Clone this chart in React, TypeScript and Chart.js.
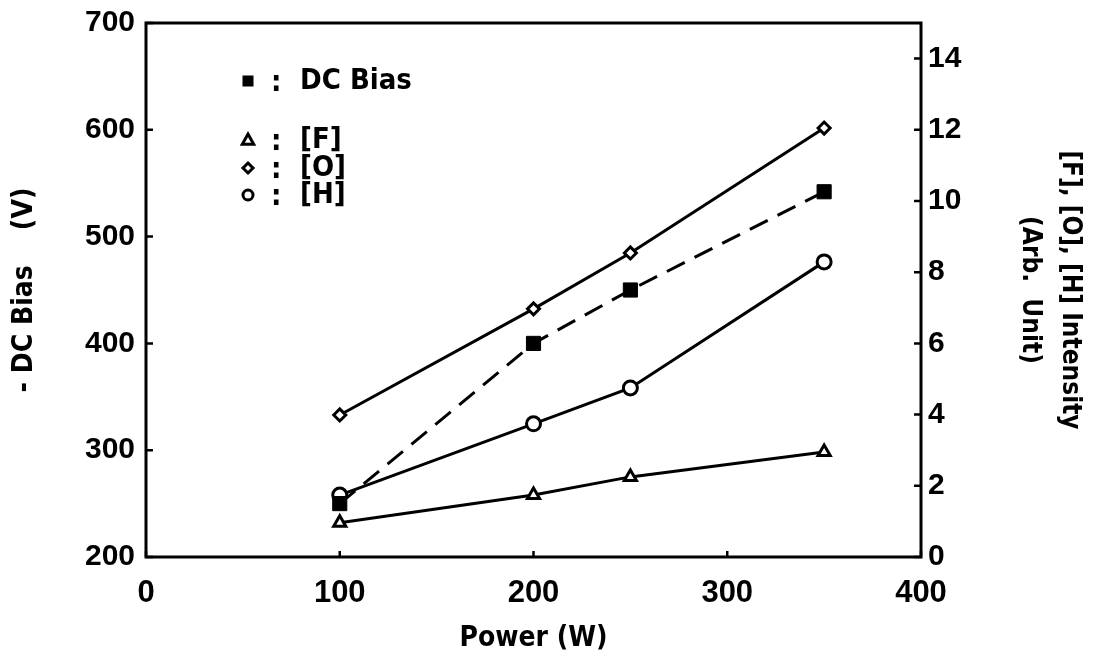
import React, { useEffect, useRef } from 'react';
import { Chart, registerables } from 'chart.js';

Chart.register(...registerables);

// ---- data ----
const powerW = [100, 200, 250, 350];
const dcBiasV = [250, 400, 450, 542];
const fIntensity = [0.96, 1.74, 2.25, 2.95];
const oIntensity = [3.99, 6.97, 8.54, 12.05];
const hIntensity = [1.74, 3.74, 4.75, 8.29];

const xTickValues = [0, 100, 200, 300, 400];
const leftTickValues = [200, 300, 400, 500, 600, 700];
const rightTickValues = [0, 2, 4, 6, 8, 10, 12, 14];

const legendLabels = ['DC Bias', '[F]', '[O]', '[H]'];
const xTitle = 'Power (W)';
const leftTitle = '- DC Bias    (V)';
const rightTitle = ['[F], [O], [H] Intensity', '(Arb.  Unit)'];

const TICKF = "'Liberation Sans', Arial, sans-serif";
const COND = "'DejaVu Sans Condensed', 'Liberation Sans', sans-serif";

function marker(ctx: CanvasRenderingContext2D, kind: string, x: number, y: number, r: number) {
  ctx.save();
  ctx.lineWidth = 3;
  ctx.strokeStyle = '#000';
  ctx.fillStyle = '#fff';
  ctx.beginPath();
  if (kind === 'rect') {
    ctx.fillStyle = '#000';
    ctx.fillRect(x - r, y - r, 2 * r, 2 * r);
  } else if (kind === 'triangle') {
    ctx.moveTo(x, y - r);
    ctx.lineTo(x + r * 0.95, y + r * 0.7);
    ctx.lineTo(x - r * 0.95, y + r * 0.7);
    ctx.closePath();
    ctx.fill();
    ctx.stroke();
  } else if (kind === 'rectRot') {
    ctx.moveTo(x, y - r);
    ctx.lineTo(x + r, y);
    ctx.lineTo(x, y + r);
    ctx.lineTo(x - r, y);
    ctx.closePath();
    ctx.fill();
    ctx.stroke();
  } else {
    ctx.arc(x, y, r, 0, Math.PI * 2);
    ctx.fill();
    ctx.stroke();
  }
  ctx.restore();
}

const framePlugin = {
  id: 'frameAndLegend',
  afterDraw(chart: any) {
    const { ctx, chartArea, scales } = chart;
    const { left, right, top, bottom } = chartArea;
    ctx.save();
    ctx.strokeStyle = '#000';
    ctx.lineWidth = 3;
    ctx.strokeRect(left, top, right - left, bottom - top);
    ctx.lineWidth = 2.5;
    ctx.beginPath();
    scales.y.ticks.forEach((t: any) => {
      const py = scales.y.getPixelForValue(t.value);
      ctx.moveTo(left, py);
      ctx.lineTo(left + 7, py);
    });
    scales.y2.ticks.forEach((t: any) => {
      const py = scales.y2.getPixelForValue(t.value);
      ctx.moveTo(right - 7, py);
      ctx.lineTo(right, py);
    });
    scales.x.ticks.forEach((t: any) => {
      const px = scales.x.getPixelForValue(t.value);
      ctx.moveTo(px, bottom - 6);
      ctx.lineTo(px, bottom);
    });
    ctx.stroke();

    // legend
    const kinds = ['rect', 'triangle', 'rectRot', 'circle'];
    const sizes = [5.5, 6, 5, 5];
    const rows = [81, 140, 168, 195];
    ctx.fillStyle = '#000';
    ctx.font = `bold 29px ${COND}`;
    ctx.textBaseline = 'middle';
    ctx.textAlign = 'left';
    legendLabels.forEach((lab, i) => {
      marker(ctx, kinds[i], 248, rows[i], sizes[i]);
      ctx.fillText(':', 271, rows[i] + 2);
      ctx.fillText(lab, 300, rows[i]);
    });
    ctx.restore();
  },
};

export default function App() {
  const ref = useRef<HTMLCanvasElement>(null);
  useEffect(() => {
    if (!ref.current) return;
    const chart = new Chart(ref.current, {
      type: 'line',
      data: {
        datasets: [
          {
            label: 'DC Bias',
            data: powerW.map((x, i) => ({ x, y: dcBiasV[i] })),
            yAxisID: 'y',
            borderColor: '#000',
            borderWidth: 3,
            borderDash: [20, 11],
            pointStyle: 'rect',
            pointRadius: 10,
            pointBackgroundColor: '#000',
            pointBorderColor: '#000',
            pointBorderWidth: 1,
          },
          {
            label: '[F]',
            data: powerW.map((x, i) => ({ x, y: fIntensity[i] })),
            yAxisID: 'y2',
            borderColor: '#000',
            borderWidth: 3,
            pointStyle: 'triangle',
            pointRadius: 7,
            pointBackgroundColor: '#fff',
            pointBorderColor: '#000',
            pointBorderWidth: 3,
          },
          {
            label: '[O]',
            data: powerW.map((x, i) => ({ x, y: oIntensity[i] })),
            yAxisID: 'y2',
            borderColor: '#000',
            borderWidth: 3,
            pointStyle: 'rectRot',
            pointRadius: 6,
            pointBackgroundColor: '#fff',
            pointBorderColor: '#000',
            pointBorderWidth: 3,
          },
          {
            label: '[H]',
            data: powerW.map((x, i) => ({ x, y: hIntensity[i] })),
            yAxisID: 'y2',
            borderColor: '#000',
            borderWidth: 3,
            pointStyle: 'circle',
            pointRadius: 7,
            pointBackgroundColor: '#fff',
            pointBorderColor: '#000',
            pointBorderWidth: 3,
          },
        ],
      },
      options: {
        responsive: false,
        animation: false,
        devicePixelRatio: 1,
        layout: { padding: { top: 23, left: 0, right: 0, bottom: 0 } },
        plugins: { legend: { display: false }, tooltip: { enabled: false } },
        scales: {
          x: {
            type: 'linear',
            position: 'bottom',
            min: 0,
            max: 400,
            afterBuildTicks: (s: any) => { s.ticks = xTickValues.map((v) => ({ value: v })); },
            afterFit: (s: any) => { s.height = 101; s.paddingLeft = 0; s.paddingRight = 0; },
            grid: { display: false, drawTicks: false },
            border: { display: false },
            ticks: { color: '#000', padding: 18, font: { family: TICKF, size: 31, weight: 'bold' } },
            title: {
              display: true,
              text: xTitle,
              color: '#000',
              padding: { top: 0, bottom: 2 },
              font: { family: COND, size: 28, weight: 'bold' },
            },
          },
          y: {
            type: 'linear',
            position: 'left',
            min: 200,
            max: 700,
            afterBuildTicks: (s: any) => { s.ticks = leftTickValues.map((v) => ({ value: v })); },
            afterFit: (s: any) => { s.width = 146; s.paddingTop = 0; s.paddingBottom = 0; },
            grid: { display: false, drawTicks: false },
            border: { display: false },
            ticks: { color: '#000', padding: 11, font: { family: TICKF, size: 30, weight: 'bold' } },
            title: {
              display: true,
              text: leftTitle,
              color: '#000',
              padding: { top: 8, bottom: 0 },
              font: { family: COND, size: 28, weight: 'bold' },
            },
          },
          y2: {
            type: 'linear',
            position: 'right',
            min: 0,
            max: 15,
            afterBuildTicks: (s: any) => { s.ticks = rightTickValues.map((v) => ({ value: v })); },
            afterFit: (s: any) => { s.width = 176; s.paddingTop = 0; s.paddingBottom = 0; },
            grid: { display: false, drawTicks: false },
            border: { display: false },
            ticks: { color: '#000', padding: 7, font: { family: TICKF, size: 30, weight: 'bold' } },
            title: {
              display: true,
              text: rightTitle,
              color: '#000',
              padding: { top: 7, bottom: 0 },
              font: { family: COND, size: 26, weight: 'bold', lineHeight: 1.55 },
            },
          },
        },
      },
      plugins: [framePlugin],
    } as any);
    return () => chart.destroy();
  }, []);

  return (
    <div style={{ position: 'fixed', left: 0, top: 0, width: 1097, height: 658, background: '#fff' }}>
      <canvas ref={ref} width={1097} height={658} style={{ display: 'block', width: 1097, height: 658 }} />
    </div>
  );
}
